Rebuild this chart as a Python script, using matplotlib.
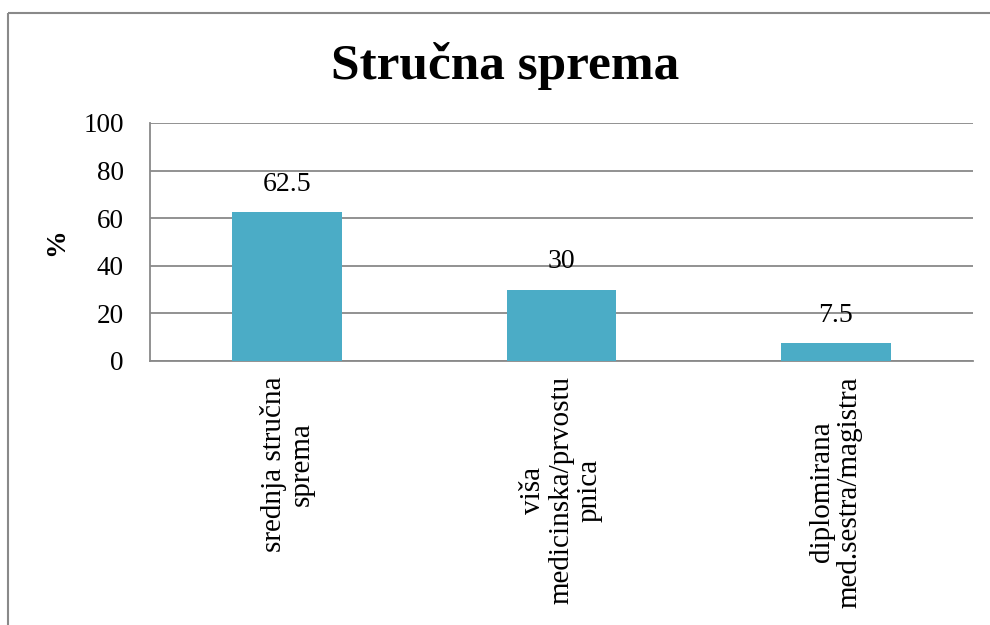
import matplotlib.pyplot as plt
from matplotlib.lines import Line2D

categories = ["srednja stručna\nsprema",
              "viša\nmedicinska/prvostu\npnica",
              "diplomirana\nmed.sestra/magistra"]
values = [62.5, 30, 7.5]
value_labels = ["62.5", "30", "7.5"]
y_ticks = [0, 20, 40, 60, 80, 100]

plt.rcParams['font.family'] = ['Liberation Serif', 'DejaVu Serif']
grey = "#898989"

fig = plt.figure(figsize=(9.9, 6.25), dpi=100)

# outer frame: only left and top edges show in the crop
fx, fy = 8 / 990, 1 - 13 / 625
fig.add_artist(Line2D([fx, fx], [-0.05, fy], transform=fig.transFigure,
                      color=grey, linewidth=1.5, solid_capstyle="butt"))
fig.add_artist(Line2D([fx, 1.05], [fy, fy], transform=fig.transFigure,
                      color=grey, linewidth=1.5, solid_capstyle="butt"))

ax = fig.add_axes([150 / 990, 1 - 361 / 625, (973 - 150) / 990, (361 - 123) / 625])
x = range(len(categories))
ax.bar(x, values, width=0.4, color="#4BACC6", zorder=3)

ax.set_xlim(-0.5, len(categories) - 0.5)
ax.set_ylim(0, 100)
ax.set_yticks(y_ticks)
ax.set_yticklabels([str(t) for t in y_ticks], fontsize=19.5)
ax.set_xticks(list(x))
ax.set_xticklabels(categories, rotation=90, fontsize=21, ha="center", va="top",
                   multialignment="center", linespacing=1.1)
ax.tick_params(axis="both", length=0)
ax.tick_params(axis="y", pad=19)
ax.tick_params(axis="x", pad=11)

ax.grid(axis="y", color=grey, linewidth=1.3, zorder=0)
for side in ["top", "right"]:
    ax.spines[side].set_visible(False)
for side in ["left", "bottom"]:
    ax.spines[side].set_color(grey)
    ax.spines[side].set_linewidth(1.3)

for xi, v, lab in zip(x, values, value_labels):
    ax.annotate(lab, (xi, v), xytext=(0, 11), textcoords="offset points",
                ha="center", va="bottom", fontsize=20)

ax.set_ylabel("%", fontsize=20, fontweight="bold", labelpad=10)
fig.text(0.51, 1 - 66 / 625, "Stručna sprema", fontsize=37, fontweight="bold",
         ha="center", va="center")

fig.savefig("out.png", dpi=100)
